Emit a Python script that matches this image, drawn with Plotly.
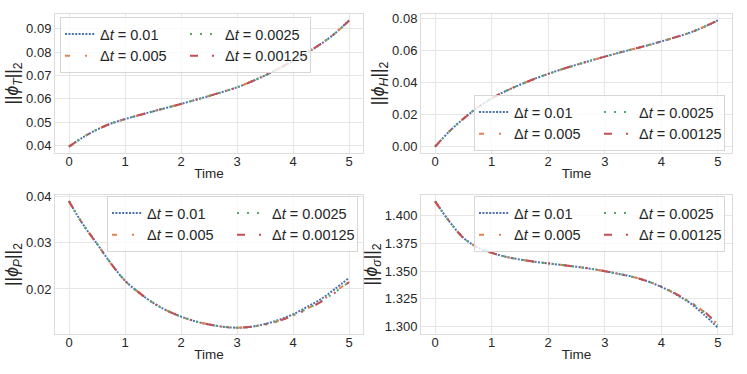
import plotly.graph_objects as go
from plotly.subplots import make_subplots

# time samples
time = [0, 0.25, 0.5, 0.75, 1, 1.25, 1.5, 1.75, 2, 2.25, 2.5, 2.75, 3, 3.25, 3.5, 3.75, 4, 4.25, 4.5, 4.75, 5]

# ||phi_T||_2 (all step sizes practically on top of each other)
phiT_01 = [0.0395, 0.0435, 0.0468, 0.0494, 0.0513, 0.0530, 0.0546, 0.0562, 0.0578, 0.0595, 0.0612,
           0.0630, 0.0649, 0.0673, 0.0700, 0.0730, 0.0763, 0.0797, 0.0835, 0.0880, 0.0936]
phiT_005 = [0.0395, 0.0435, 0.0468, 0.0494, 0.0513, 0.0530, 0.0546, 0.0562, 0.0578, 0.0595, 0.0612,
            0.0630, 0.0649, 0.0673, 0.0700, 0.0730, 0.0763, 0.0798, 0.0836, 0.0880, 0.0934]
phiT_0025 = phiT_005
phiT_00125 = phiT_005

# ||phi_H||_2
phiH_01 = [0.0000, 0.0095, 0.0175, 0.0245, 0.0302, 0.0348, 0.0387, 0.0423, 0.0455, 0.0485, 0.0512,
           0.0538, 0.0563, 0.0587, 0.0610, 0.0633, 0.0658, 0.0684, 0.0712, 0.0748, 0.0790]
phiH_005 = phiH_01
phiH_0025 = phiH_01
phiH_00125 = phiH_01

# ||phi_P||_2
phiP_01 = [0.0390, 0.0340, 0.0298, 0.0255, 0.0218, 0.0192, 0.0170, 0.0153, 0.0140, 0.0130, 0.0123,
           0.0118, 0.0116, 0.0118, 0.0124, 0.0133, 0.0145, 0.0161, 0.0178, 0.0200, 0.0224]
phiP_005 = [0.0390, 0.0340, 0.0298, 0.0255, 0.0218, 0.0192, 0.0170, 0.0153, 0.0140, 0.0130, 0.0123,
            0.0118, 0.0116, 0.0118, 0.0123, 0.0131, 0.0143, 0.0157, 0.0174, 0.0194, 0.0216]
phiP_0025 = [0.0390, 0.0340, 0.0298, 0.0255, 0.0218, 0.0192, 0.0170, 0.0153, 0.0140, 0.0130, 0.0123,
             0.0118, 0.0116, 0.0118, 0.0123, 0.0131, 0.0143, 0.0157, 0.0173, 0.0193, 0.0215]
phiP_00125 = [0.0390, 0.0340, 0.0298, 0.0255, 0.0218, 0.0192, 0.0170, 0.0153, 0.0140, 0.0130, 0.0123,
              0.0118, 0.0116, 0.0118, 0.0123, 0.0131, 0.0142, 0.0156, 0.0172, 0.0192, 0.0215]

# ||phi_sigma||_2
phiS_01 = [1.4130, 1.3950, 1.3800, 1.3715, 1.3665, 1.3630, 1.3605, 1.3585, 1.3570, 1.3555, 1.3540,
           1.3522, 1.3500, 1.3475, 1.3448, 1.3410, 1.3358, 1.3293, 1.3215, 1.3110, 1.2990]
phiS_005 = [1.4130, 1.3950, 1.3800, 1.3715, 1.3665, 1.3630, 1.3605, 1.3585, 1.3570, 1.3555, 1.3540,
            1.3522, 1.3500, 1.3475, 1.3448, 1.3410, 1.3360, 1.3297, 1.3222, 1.3135, 1.3015]
phiS_0025 = phiS_005
phiS_00125 = [1.4130, 1.3950, 1.3800, 1.3715, 1.3665, 1.3630, 1.3605, 1.3585, 1.3570, 1.3555, 1.3540,
              1.3522, 1.3500, 1.3475, 1.3448, 1.3410, 1.3360, 1.3298, 1.3224, 1.3140, 1.3018]

labels = ["Δ<i>t</i> = 0.01", "Δ<i>t</i> = 0.005", "Δ<i>t</i> = 0.0025", "Δ<i>t</i> = 0.00125"]
colors = ["#4C72B0", "#DD8452", "#55A868", "#C44E52"]
dashes = ["2px,1.4px", "5px,15px,2px,15px", "2px,8px", "8px,14px,2px,14px"]
groups = ["a", "a", "b", "b"]

panels = [
    ([phiT_01, phiT_005, phiT_0025, phiT_00125], "||<i>ϕ<sub>T</sub></i>||<sub>2</sub>",
     [0.04, 0.05, 0.06, 0.07, 0.08, 0.09], ".2f"),
    ([phiH_01, phiH_005, phiH_0025, phiH_00125], "||<i>ϕ<sub>H</sub></i>||<sub>2</sub>",
     [0.0, 0.02, 0.04, 0.06, 0.08], ".2f"),
    ([phiP_01, phiP_005, phiP_0025, phiP_00125], "||<i>ϕ<sub>P</sub></i>||<sub>2</sub>",
     [0.02, 0.03, 0.04], ".2f"),
    ([phiS_01, phiS_005, phiS_0025, phiS_00125], "||<i>ϕ<sub>σ</sub></i>||<sub>2</sub>",
     [1.300, 1.325, 1.350, 1.375, 1.400], ".3f"),
]

W, H = 747, 374
# plot areas in pixels (left, right, top, bottom)
boxes = [(55, 363, 14, 153), (421, 732, 14, 153), (55, 363, 195, 334), (421, 732, 195, 334)]

fig = make_subplots(rows=2, cols=2)
legend_names = ["legend", "legend2", "legend3", "legend4"]

for p, (series, ytitle, yticks, fmt) in enumerate(panels):
    r, c = p // 2 + 1, p % 2 + 1
    for k in range(4):
        fig.add_trace(go.Scatter(x=time, y=series[k], mode="lines", name=labels[k],
                                 line=dict(color=colors[k], width=2, dash=dashes[k], shape="spline"),
                                 legendgroup=groups[k] + str(p), legend=legend_names[p]),
                      row=r, col=c)
    lo = min(min(s) for s in series)
    hi = max(max(s) for s in series)
    pad = (hi - lo) * 0.05
    l, rr, t, b = boxes[p]
    fig.update_xaxes(row=r, col=c, domain=[l / W, rr / W], range=[-0.25, 5.25],
                     tickvals=[0, 1, 2, 3, 4, 5], title_text="Time", title_standoff=0)
    fig.update_yaxes(row=r, col=c, domain=[1 - b / H, 1 - t / H], range=[lo - pad, hi + pad],
                     tickvals=yticks, tickformat=fmt, title_text=ytitle, title_standoff=2)

axis_style = dict(showgrid=True, gridcolor="#e6e6e6", gridwidth=1, showline=True, mirror=True,
                  linecolor="#dcdcdc", linewidth=1, zeroline=False, ticks="", ticklen=0,
                  automargin=False, tickfont=dict(size=13, color="#262626"))
fig.update_xaxes(title_font=dict(size=13.5, color="#262626"), ticklabelstandoff=-4, **axis_style)
fig.update_yaxes(title_font=dict(size=17.5, color="#262626"), **axis_style)

leg_style = dict(orientation="h", traceorder="grouped", bgcolor="rgba(255,255,255,0.8)",
                 bordercolor="#d6d6d6", borderwidth=1, font=dict(size=14.5, color="#262626"),
                 itemwidth=30, tracegroupgap=0, entrywidth=80, entrywidthmode="pixels")
fig.update_layout(
    width=W, height=H, margin=dict(l=0, r=0, t=0, b=0, autoexpand=False),
    plot_bgcolor="white", paper_bgcolor="white",
    font=dict(family="Liberation Sans, Arial, sans-serif", color="#262626"),
    legend=dict(x=60 / W, y=1 - 17 / H, xanchor="left", yanchor="top", **leg_style),
    legend2=dict(x=725 / W, y=1 - 151 / H, xanchor="right", yanchor="bottom", **leg_style),
    legend3=dict(x=358 / W, y=1 - 196 / H, xanchor="right", yanchor="top", **leg_style),
    legend4=dict(x=725 / W, y=1 - 196 / H, xanchor="right", yanchor="top", **leg_style),
)

fig.write_html("out.html", config={"displayModeBar": False},
               post_script="document.body.style.margin='0';")
